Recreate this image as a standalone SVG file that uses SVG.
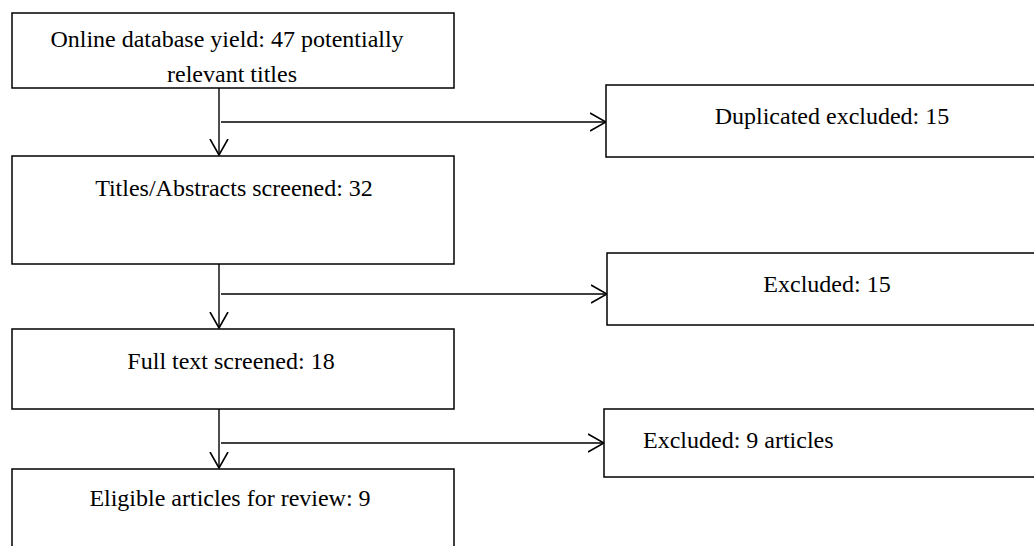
<svg xmlns="http://www.w3.org/2000/svg" width="1034" height="546" viewBox="0 0 1034 546">
<style>
.box{fill:#fff;stroke:#000;stroke-width:1.5}
.t{font-family:"Liberation Serif","Times New Roman",serif;font-size:24px;fill:#000}
.c{text-anchor:middle}
.ln{stroke:#000;stroke-width:1.4;fill:none}
</style>
<defs>
<marker id="ah" viewBox="0 0 17 20" refX="16" refY="10" markerWidth="17" markerHeight="20" markerUnits="userSpaceOnUse" orient="auto">
<path d="M0,1 L16,10 L0,19" fill="none" stroke="#000" stroke-width="1.6"/>
</marker>
</defs>
<rect width="1034" height="546" fill="#fff"/>
<g id="connectors">
<line class="ln" x1="219" y1="88" x2="219" y2="155" marker-end="url(#ah)"/>
<line class="ln" x1="221" y1="122" x2="606" y2="122" marker-end="url(#ah)"/>
<line class="ln" x1="219" y1="264" x2="219" y2="328" marker-end="url(#ah)"/>
<line class="ln" x1="221" y1="294" x2="607" y2="294" marker-end="url(#ah)"/>
<line class="ln" x1="219" y1="409" x2="219" y2="468" marker-end="url(#ah)"/>
<line class="ln" x1="221" y1="443" x2="604" y2="443" marker-end="url(#ah)"/>
</g>
<g id="n1">
<rect class="box" x="12" y="13" width="442" height="75"/>
<text class="t c" x="227" y="47">Online database yield: 47 potentially</text>
<text class="t c" x="232" y="82">relevant titles</text>
</g>
<g id="n2">
<rect class="box" x="606" y="85" width="450" height="72"/>
<text class="t c" x="832" y="124">Duplicated excluded: 15</text>
</g>
<g id="n3">
<rect class="box" x="12" y="156" width="442" height="108"/>
<text class="t c" x="234" y="196">Titles/Abstracts screened: 32</text>
</g>
<g id="n4">
<rect class="box" x="607" y="253" width="450" height="72"/>
<text class="t c" x="827" y="292">Excluded: 15</text>
</g>
<g id="n5">
<rect class="box" x="12" y="329" width="442" height="80"/>
<text class="t c" x="231" y="369">Full text screened: 18</text>
</g>
<g id="n6">
<rect class="box" x="604" y="409" width="450" height="68"/>
<text class="t" x="643" y="448">Excluded: 9 articles</text>
</g>
<g id="n7">
<rect class="box" x="12" y="469" width="442" height="100"/>
<text class="t c" x="230" y="506">Eligible articles for review: 9</text>
</g>
</svg>
